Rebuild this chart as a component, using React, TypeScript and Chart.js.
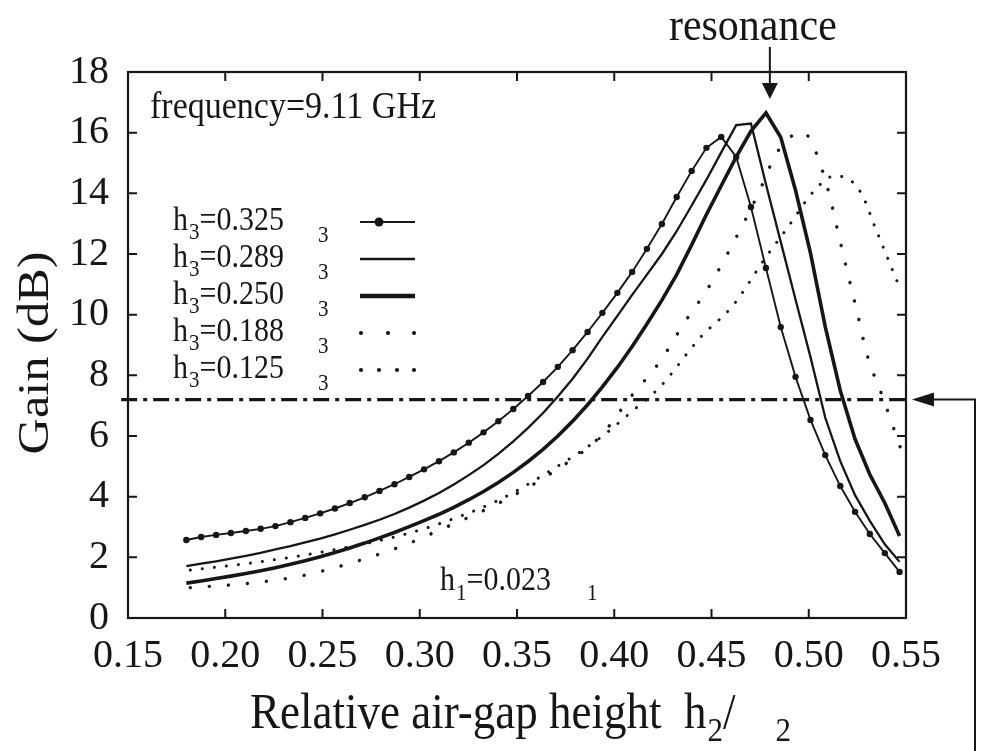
import React, { useEffect, useRef } from "react";
import { Chart, registerables } from "chart.js";
Chart.register(...registerables);

// ---- data ----
const xGrid = [
  0.18, 0.1876, 0.1953, 0.2029, 0.2106, 0.2182, 0.2258, 0.2335, 0.2411, 0.2488,
  0.2564, 0.264, 0.2717, 0.2793, 0.287, 0.2946, 0.3022, 0.3099, 0.3175, 0.3252,
  0.3328, 0.3404, 0.3481, 0.3557, 0.3634, 0.371, 0.3786, 0.3863, 0.3939, 0.4016,
  0.4092, 0.4168, 0.4245, 0.4321, 0.4398, 0.4474, 0.455, 0.4627, 0.4703, 0.478,
  0.4856, 0.4932, 0.5009, 0.5085, 0.5162, 0.5238, 0.5314, 0.5391, 0.5467,
];
const gain325 = [
  2.57, 2.67, 2.74, 2.8, 2.87, 2.94, 3.03, 3.16, 3.3, 3.45,
  3.61, 3.79, 3.98, 4.19, 4.41, 4.65, 4.9, 5.17, 5.46, 5.78,
  6.12, 6.49, 6.89, 7.32, 7.78, 8.28, 8.83, 9.43, 10.06, 10.72,
  11.41, 12.17, 12.99, 13.88, 14.74, 15.5, 15.86, 15.2, 13.55, 11.54,
  9.59, 7.95, 6.53, 5.37, 4.35, 3.5, 2.77, 2.14, 1.52,
];
const gain289 = [
  1.71, 1.79, 1.87, 1.96, 2.05, 2.15, 2.26, 2.37, 2.49, 2.62,
  2.76, 2.91, 3.07, 3.24, 3.43, 3.64, 3.87, 4.12, 4.4, 4.71,
  5.04, 5.41, 5.82, 6.27, 6.76, 7.3, 7.89, 8.55, 9.27, 9.96,
  10.65, 11.32, 12.0, 12.75, 13.6, 14.45, 15.35, 16.25, 16.3, 14.3,
  12.4, 10.5, 8.6, 6.6, 5.17, 4.05, 3.2, 2.43, 1.85,
];
const gain250 = [
  1.15, 1.22, 1.3, 1.38, 1.47, 1.56, 1.66, 1.77, 1.89, 2.02,
  2.16, 2.31, 2.47, 2.64, 2.82, 3.01, 3.21, 3.42, 3.65, 3.9,
  4.17, 4.47, 4.8, 5.16, 5.56, 6.0, 6.49, 7.03, 7.62, 8.26,
  8.95, 9.69, 10.48, 11.32, 12.3, 13.3, 14.25, 15.2, 16.05, 16.65,
  15.85, 14.1, 12.03, 9.6, 7.5, 5.9, 4.73, 3.79, 2.7,
];
const x188 = [
  0.182, 0.213, 0.2385, 0.264, 0.29, 0.312, 0.341, 0.367, 0.393, 0.408,
  0.424, 0.436, 0.448, 0.459, 0.474, 0.483, 0.49, 0.497, 0.503, 0.51,
  0.515, 0.52, 0.525, 0.53, 0.538, 0.547,
];
const gain188 = [
  1.0, 1.15, 1.38, 1.8, 2.35, 2.95, 3.8, 4.75, 6.0, 7.25,
  8.5, 9.73, 10.85, 12.1, 13.98, 15.27, 15.83, 16.02, 15.46, 14.1,
  12.73, 11.37, 10.05, 8.67, 7.29, 5.64,
];
const x125 = [
  0.182, 0.213, 0.2385, 0.264, 0.29, 0.312, 0.341, 0.367, 0.393, 0.408,
  0.424, 0.444, 0.461, 0.478, 0.489, 0.503, 0.513, 0.518, 0.527, 0.534,
  0.541, 0.547,
];
const gain125 = [
  1.58, 1.81, 2.05, 2.35, 2.72, 3.15, 3.9, 4.85, 5.95, 6.75,
  7.65, 9.23, 10.3, 11.9, 12.86, 14.1, 14.57, 14.54, 14.0, 12.9,
  11.8, 10.85,
];
const legendValues = ["0.325", "0.289", "0.250", "0.188", "0.125"];
const xTicks = [0.15, 0.2, 0.25, 0.3, 0.35, 0.4, 0.45, 0.5, 0.55];
const yTicks = [0, 2, 4, 6, 8, 10, 12, 14, 16, 18];
const thresholdX = [0.1465, 0.55];
const thresholdGain = [7.2, 7.2];
const resonanceX = 0.48;

// ---- styles ----
const INK = "#161616";
const SERIF = '"Liberation Serif", "Times New Roman", serif';

function pts(xs: number[], ys: number[]) {
  return xs.map((x, i) => ({ x, y: ys[i] }));
}

function txt(ctx: CanvasRenderingContext2D, s: string, x: number, y: number, size: number, sy = 1.12) {
  ctx.save();
  ctx.font = `${size}px ${SERIF}`;
  ctx.textAlign = "left";
  ctx.textBaseline = "alphabetic";
  ctx.translate(x, y);
  ctx.scale(1, sy);
  ctx.fillText(s, 0, 0);
  const w = ctx.measureText(s).width;
  ctx.restore();
  return w;
}

function centerTxt(ctx: CanvasRenderingContext2D, s: string, cx: number, y: number, size: number, sy = 1.12) {
  ctx.save();
  ctx.font = `${size}px ${SERIF}`;
  const w = ctx.measureText(s).width;
  ctx.restore();
  txt(ctx, s, cx - w / 2, y, size, sy);
}

const legendStyles = [
  { w: 2, dots: [] as number[], marker: true },
  { w: 2.6, dots: [] as number[], marker: false },
  { w: 4.4, dots: [] as number[], marker: false },
  { w: 0, dots: [361, 388, 414], marker: false },
  { w: 0, dots: [361, 379, 397, 414], marker: false },
];

const decor = {
  id: "decor",
  afterDatasetsDraw(chart: any) {
    const { ctx, chartArea: a, scales } = chart;
    const xs = scales.x;
    const ys = scales.y;
    ctx.save();
    ctx.strokeStyle = INK;
    ctx.fillStyle = INK;

    // frame and inward ticks
    ctx.lineWidth = 2.2;
    ctx.strokeRect(a.left, a.top, a.right - a.left, a.bottom - a.top);
    ctx.lineWidth = 2;
    ctx.beginPath();
    xTicks.slice(1, -1).forEach((v) => {
      const p = xs.getPixelForValue(v);
      ctx.moveTo(p, a.bottom);
      ctx.lineTo(p, a.bottom - 9);
      ctx.moveTo(p, a.top);
      ctx.lineTo(p, a.top + 9);
    });
    yTicks.slice(1, -1).forEach((v) => {
      const p = ys.getPixelForValue(v);
      ctx.moveTo(a.left, p);
      ctx.lineTo(a.left + 9, p);
      ctx.moveTo(a.right, p);
      ctx.lineTo(a.right - 9, p);
    });
    ctx.stroke();

    // frequency label
    txt(ctx, "frequency=9.11 GHz", 150, 118, 34);

    // legend
    legendValues.forEach((val, i) => {
      const b = 230 + 37 * i;
      let cx = 173;
      cx += txt(ctx, "h", cx, b, 30);
      cx += txt(ctx, "3", cx + 1, b + 9, 21) + 1;
      txt(ctx, "=" + val, cx, b, 30);
      txt(ctx, "3", 318, b + 12, 21);
      const ly = b - 8;
      const st = legendStyles[i];
      if (st.w > 0) {
        ctx.lineWidth = st.w;
        ctx.beginPath();
        ctx.moveTo(360, ly);
        ctx.lineTo(415, ly);
        ctx.stroke();
      }
      if (st.marker) {
        ctx.beginPath();
        ctx.arc(379, ly, 4.5, 0, Math.PI * 2);
        ctx.fill();
      }
      st.dots.forEach((dx) => {
        ctx.beginPath();
        ctx.arc(dx, ly, 2.1, 0, Math.PI * 2);
        ctx.fill();
      });
    });

    // h1 label
    {
      let cx = 440;
      const b = 590;
      cx += txt(ctx, "h", cx, b, 30);
      cx += txt(ctx, "1", cx + 1, b + 10, 21) + 1;
      txt(ctx, "=0.023", cx, b, 30);
      txt(ctx, "1", 587, b + 10, 21);
    }

    // resonance annotation
    {
      const rx = xs.getPixelForValue(resonanceX);
      centerTxt(ctx, "resonance", rx - 17, 40, 42);
      ctx.lineWidth = 2;
      ctx.beginPath();
      ctx.moveTo(rx, 47);
      ctx.lineTo(rx, 86);
      ctx.stroke();
      ctx.beginPath();
      ctx.moveTo(rx, 99);
      ctx.lineTo(rx - 8, 83);
      ctx.lineTo(rx + 8, 83);
      ctx.closePath();
      ctx.fill();
    }

    // right-side threshold arrow
    {
      const ty = ys.getPixelForValue(thresholdGain[0]);
      const vx = a.right + 69;
      ctx.lineWidth = 2;
      ctx.beginPath();
      ctx.moveTo(vx, chart.height);
      ctx.lineTo(vx, ty);
      ctx.lineTo(a.right + 26, ty);
      ctx.stroke();
      ctx.beginPath();
      ctx.moveTo(a.right + 6, ty);
      ctx.lineTo(a.right + 28, ty - 7);
      ctx.lineTo(a.right + 28, ty + 7);
      ctx.closePath();
      ctx.fill();
    }

    // axis titles
    {
      let cx = 250;
      const b = 728;
      cx += txt(ctx, "Relative air-gap height  h", cx, b, 45);
      cx += txt(ctx, "2", cx + 1, b + 13, 31) + 1;
      cx += txt(ctx, "/", cx, b, 45);
      txt(ctx, "2", cx + 40, b + 13, 31);
    }
    {
      ctx.save();
      ctx.translate(48, 353);
      ctx.rotate(-Math.PI / 2);
      ctx.scale(1.12, 1);
      ctx.font = `45px ${SERIF}`;
      ctx.textAlign = "center";
      ctx.textBaseline = "alphabetic";
      ctx.fillText("Gain (dB)", 0, 0);
      ctx.restore();
    }
    ctx.restore();
  },
};

export default function App() {
  const ref = useRef<HTMLCanvasElement | null>(null);
  useEffect(() => {
    if (!ref.current) return;
    const chart = new Chart(ref.current, {
      type: "line",
      data: {
        datasets: [
          {
            label: "h3=0.325",
            data: pts(xGrid, gain325),
            borderColor: INK,
            backgroundColor: INK,
            borderWidth: 1.9,
            pointRadius: 3.2,
            pointBorderWidth: 0,
            pointBackgroundColor: INK,
            tension: 0,
          },
          {
            label: "h3=0.289",
            data: pts(xGrid, gain289),
            borderColor: INK,
            borderWidth: 2.3,
            pointRadius: 0,
            tension: 0,
          },
          {
            label: "h3=0.250",
            data: pts(xGrid, gain250),
            borderColor: INK,
            borderWidth: 3.6,
            pointRadius: 0,
            tension: 0,
          },
          {
            label: "h3=0.188",
            data: pts(x188, gain188),
            borderColor: INK,
            borderWidth: 3.4,
            borderDash: [0.1, 19],
            borderCapStyle: "round",
            pointRadius: 0,
            cubicInterpolationMode: "monotone",
          },
          {
            label: "h3=0.125",
            data: pts(x125, gain125),
            borderColor: INK,
            borderWidth: 3.0,
            borderDash: [0.1, 12],
            borderCapStyle: "round",
            pointRadius: 0,
            cubicInterpolationMode: "monotone",
          },
          {
            label: "threshold",
            data: pts(thresholdX, thresholdGain),
            borderColor: INK,
            borderWidth: 3.4,
            borderDash: [16, 6, 4, 6],
            pointRadius: 0,
            clip: false as any,
          },
        ] as any,
      },
      options: {
        animation: false,
        responsive: false,
        events: [],
        layout: { padding: { left: 0, top: 72, right: 76, bottom: 0 } },
        plugins: { legend: { display: false }, tooltip: { enabled: false } },
        scales: {
          x: {
            type: "linear",
            min: 0.15,
            max: 0.55,
            grid: { display: false },
            border: { display: false },
            afterBuildTicks: (s: any) => {
              s.ticks = xTicks.map((v) => ({ value: v }));
            },
            afterFit: (s: any) => {
              s.height = 133;
            },
            ticks: {
              autoSkip: false,
              maxRotation: 0,
              padding: 6,
              color: INK,
              font: { family: SERIF, size: 40 },
              callback: (v: any) => Number(v).toFixed(2),
            },
          },
          y: {
            type: "linear",
            min: 0,
            max: 18,
            grid: { display: false },
            border: { display: false },
            afterBuildTicks: (s: any) => {
              s.ticks = yTicks.map((v) => ({ value: v }));
            },
            afterFit: (s: any) => {
              s.width = 128;
            },
            ticks: {
              padding: 11,
              color: INK,
              font: { family: SERIF, size: 40 },
              callback: (v: any) => String(v),
            },
          },
        },
      } as any,
      plugins: [decor],
    });
    return () => chart.destroy();
  }, []);
  return (
    <div style={{ position: "fixed", left: 0, top: 0, width: 982, height: 751, background: "#fff" }}>
      <canvas ref={ref} width={982} height={751} style={{ display: "block" }} />
    </div>
  );
}
